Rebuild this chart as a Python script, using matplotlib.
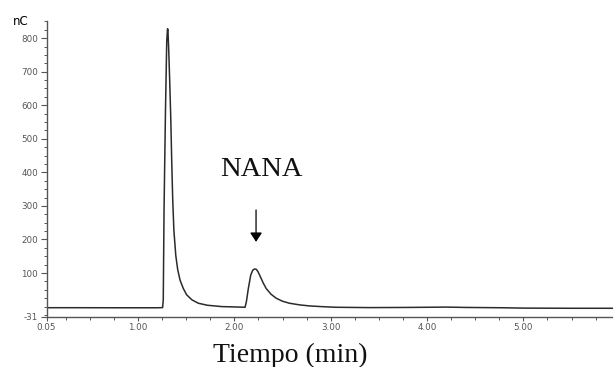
import matplotlib
matplotlib.use("Agg")
import matplotlib.pyplot as plt
from matplotlib.ticker import FixedLocator, MultipleLocator

# Chromatogram trace: retention time (min) and detector response (nC)
time_min = [
    0.05, 0.40, 0.80, 1.00, 1.20, 1.255,
    1.262, 1.270, 1.285, 1.298, 1.306, 1.310, 1.318, 1.328, 1.340, 1.350,
    1.360, 1.372, 1.392, 1.412, 1.436, 1.470, 1.505, 1.560, 1.626, 1.720,
    1.869, 2.000,
    2.111, 2.125, 2.145, 2.170, 2.190, 2.205, 2.215, 2.228, 2.245, 2.262,
    2.300, 2.330, 2.380, 2.434, 2.500, 2.572, 2.680, 2.780, 2.900, 3.050,
    3.400, 3.800, 4.000, 4.200, 4.400, 4.800, 5.000, 5.500, 5.930,
]
signal_nc = [
    -3.3, -3.3, -3.5, -3.5, -3.5, -3.0,
    20, 288, 585, 790, 828, 826, 770, 680, 560, 430,
    320, 228, 152, 110, 79, 54, 35, 20, 10, 4,
    0, -1,
    -2, 15, 54, 94, 108, 111.5, 112, 111, 104, 94,
    70, 54, 37, 25, 16, 10, 5, 2, 0, -2,
    -3, -2.5, -2, -1.5, -2.5, -3.5, -4.5, -5, -5,
]

x_tick_values = [0.05, 1.0, 2.0, 3.0, 4.0, 5.0]
x_tick_labels = ["0.05", "1.00", "2.00", "3.00", "4.00", "5.00"]
y_tick_values = [-31, 100, 200, 300, 400, 500, 600, 700, 800]
y_tick_labels = ["-31", "100", "200", "300", "400", "500", "600", "700", "800"]

peak_label = "NANA"
peak_time = 2.225
arrow_tail_nc = 288
arrow_tip_nc = 193

W, H = 613, 367
fig = plt.figure(figsize=(W / 100, H / 100), dpi=100)
fig.patch.set_facecolor("white")

ax = fig.add_axes([46.5 / W, 50 / H, 1 - 46.5 / W, (317 - 20.7) / H])
ax.plot(time_min, signal_nc, color="#2b2b2b", lw=1.1, solid_joinstyle="round")

ax.set_xlim(0.05, 5.93)
ax.set_ylim(-31, 852)

for side in ("top", "right"):
    ax.spines[side].set_visible(False)
for side in ("left", "bottom"):
    ax.spines[side].set_color("#555555")
    ax.spines[side].set_linewidth(1.0)

ax.xaxis.set_major_locator(FixedLocator(x_tick_values))
ax.set_xticklabels(x_tick_labels)
ax.xaxis.set_minor_locator(MultipleLocator(0.25))
ax.yaxis.set_major_locator(FixedLocator(y_tick_values))
ax.set_yticklabels(y_tick_labels)
ax.yaxis.set_minor_locator(MultipleLocator(25))

ax.tick_params(axis="both", which="major", labelsize=6.3, labelcolor="#555555",
               color="#555555", width=0.8)
ax.tick_params(axis="x", which="major", direction="out", length=3, pad=1.5)
ax.tick_params(axis="y", which="major", direction="out", length=4.5, pad=1.5)
ax.tick_params(axis="both", which="minor", direction="out", length=2.2,
               color="#555555", width=0.7)

fig.text(21 / W, 1 - 21.5 / H, "nC", fontsize=8.5, ha="center", va="center",
         color="black", family="DejaVu Sans")

ax.annotate("", xy=(peak_time, arrow_tip_nc), xytext=(peak_time, arrow_tail_nc),
            arrowprops=dict(arrowstyle="-|>,head_length=0.55,head_width=0.36",
                            color="black", lw=0.9, mutation_scale=10,
                            shrinkA=0, shrinkB=0))

fig.text(261 / W, 1 - 176 / H, peak_label, fontsize=20.5, ha="center",
         va="baseline", family="Liberation Serif", color="#111111")
fig.text(290.5 / W, 1 - 361.7 / H, "Tiempo (min)", fontsize=20,
         ha="center", va="baseline", family="Liberation Serif", color="#111111")

fig.savefig("out.png", dpi=100, facecolor="white")
